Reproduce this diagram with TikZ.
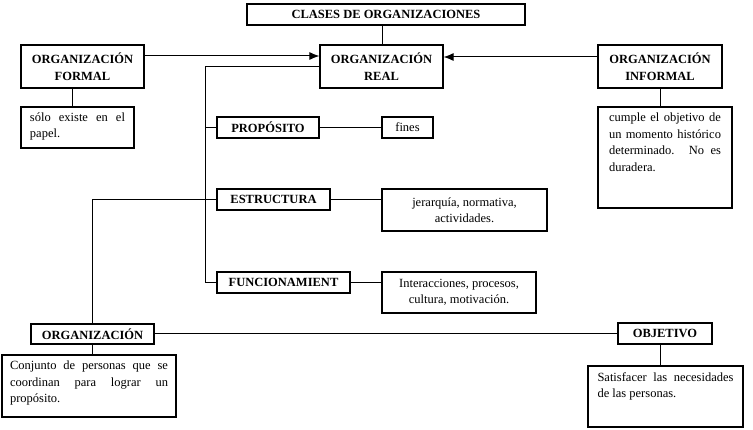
\documentclass[tikz,border=0pt]{standalone}
\usepackage{fontspec}
\setmainfont{Liberation Serif}
\usetikzlibrary{arrows.meta,calc}
\newcommand\mytxt[3]{\parbox[c][#2pt][t]{#1pt}{\strut #3}}
\begin{document}
\begin{tikzpicture}[x=1pt,y=-1pt,
  box/.style={draw, line width=1.2pt, inner sep=0pt},
  head/.style={box, font=\fontsize{12.5}{17}\selectfont\bfseries, align=center},
  body/.style={box, font=\fontsize{12.5}{16.5}\selectfont, align=center},
  link/.style={line width=1pt},
  arr/.style={link, -{Latex[length=10pt,width=8pt]}}]
\useasboundingbox (0,0) rectangle (753,430);
\hyphenpenalty=10000
% headers
\node[head, minimum width=278, minimum height=21] (title) at (386,14.5) {CLASES DE ORGANIZACIONES};
\node[head, minimum width=123, minimum height=43] (formal) at (82.5,66.5) {ORGANIZACIÓN\\FORMAL};
\node[head, minimum width=123, minimum height=43] (real) at (381.5,66.5) {ORGANIZACIÓN\\REAL};
\node[head, minimum width=124, minimum height=43] (informal) at (660,66.5) {ORGANIZACIÓN\\INFORMAL};
\node[head, minimum width=102, minimum height=21] (prop) at (268,127.5) {PROPÓSITO};
\node[head, minimum width=113, minimum height=21] (estr) at (273.5,199.5) {ESTRUCTURA};
\node[head, minimum width=133, minimum height=21] (func) at (283.5,282.5) {FUNCIONAMIENT};
\node[head, minimum width=123, minimum height=20] (org) at (92.5,334) {ORGANIZACIÓN};
\node[head, minimum width=94, minimum height=21] (obj) at (665,333.5) {OBJETIVO};
% bodies
\node[body, minimum width=113, minimum height=41] (solo) at (77.5,127.5) {\mytxt{95}{36}{sólo existe en el\linebreak papel.}};
\node[body, minimum width=134, minimum height=101] (cumple) at (665,157.5) {\mytxt{112}{95}{cumple el objetivo de\linebreak un momento histórico\linebreak determinado. No es\linebreak duradera.}};
\node[body, minimum width=51, minimum height=21] (fines) at (407.5,127.5) {fines};
\node[body, minimum width=165, minimum height=42] (jer) at (464.5,210) {jerarquía, normativa,\\actividades.};
\node[body, minimum width=154, minimum height=41] (inter) at (459,292.5) {Interacciones, procesos,\\cultura, motivación.};
\node[body, minimum width=174, minimum height=62] (conj) at (89,386) {\mytxt{158}{56}{Conjunto de personas que se\linebreak coordinan para lograr un\linebreak propósito.}};
\node[body, minimum width=155, minimum height=61] (sat) at (665.5,396.5) {\mytxt{136}{54}{Satisfacer las necesidades\linebreak de las personas.}};
% connectors
\draw[link] (real.north -| 382,0) -- (title.south -| 382,0);
\draw[arr] ([yshift=10.5pt]formal.east) -- ([yshift=10.5pt]real.west);
\draw[arr] ([yshift=9.5pt]informal.west) -- ([yshift=9.5pt]real.east);
\coordinate (trunk) at (205,0);
\draw[link] (real.west) -| (trunk |- func.west) -- (func.west);
\draw[link] (prop.west) -- (prop.west -| trunk);
\draw[link] (org.north) |- (estr.west);
\draw[link] (prop.east) -- (fines.west);
\draw[link] (estr.east) -- (estr.east -| jer.west);
\draw[link] (func.east) -- (func.east -| inter.west);
\draw[link] ([xshift=-10pt]formal.south) -- ([xshift=-10pt]formal.south |- solo.north);
\draw[link] (informal.south) -- (informal.south |- cumple.north);
\draw[link] (org.east) -- (org.east -| obj.west);
\draw[link] ([xshift=-5pt]obj.south) -- ([xshift=-5pt]obj.south |- sat.north);
\draw[link] (org.south) -- (org.south |- conj.north);
\end{tikzpicture}
\end{document}
